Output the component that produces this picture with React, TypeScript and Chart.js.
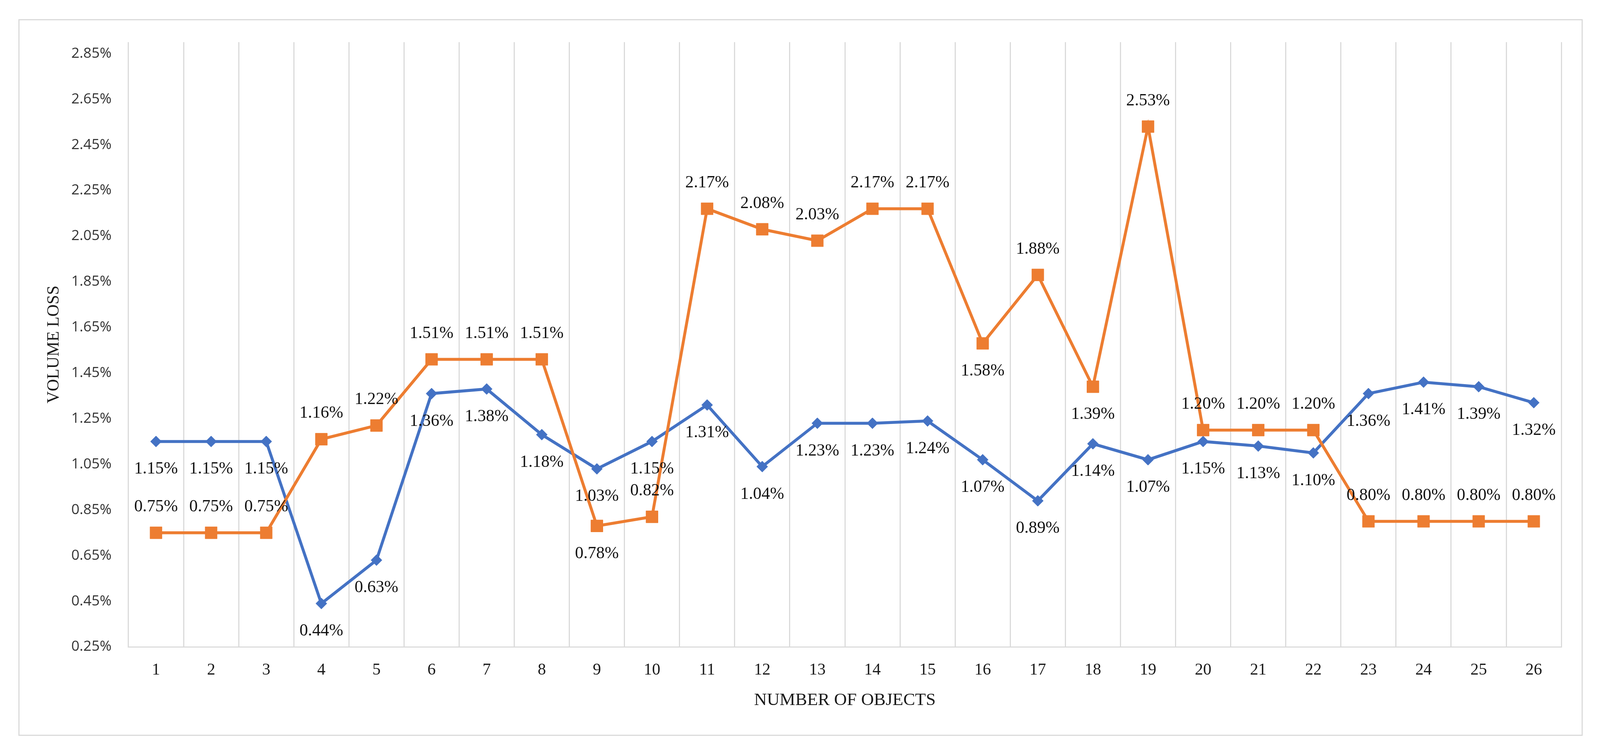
import React, { useEffect, useRef, useState } from "react";
import { Chart, registerables } from "chart.js";

Chart.register(...registerables);

const categories = ["1","2","3","4","5","6","7","8","9","10","11","12","13","14","15","16","17","18","19","20","21","22","23","24","25","26"];

const blueValues = [1.15,1.15,1.15,0.44,0.63,1.36,1.38,1.18,1.03,1.15,1.31,1.04,1.23,1.23,1.24,1.07,0.89,1.14,1.07,1.15,1.13,1.10,1.36,1.41,1.39,1.32];
const orangeValues = [0.75,0.75,0.75,1.16,1.22,1.51,1.51,1.51,0.78,0.82,2.17,2.08,2.03,2.17,2.17,1.58,1.88,1.39,2.53,1.20,1.20,1.20,0.80,0.80,0.80,0.80];

// label placement per point: "a" = above, "b" = below
const blueLabelPos = ["b","b","b","b","b","b","b","b","b","b","b","b","b","b","b","b","b","b","b","b","b","b","b","b","b","b"];
const orangeLabelPos = ["a","a","a","a","a","a","a","a","b","a","a","a","a","a","a","b","a","b","a","a","a","a","a","a","a","a"];

const yTicks = [0.25,0.45,0.65,0.85,1.05,1.25,1.45,1.65,1.85,2.05,2.25,2.45,2.65,2.85];
const yMin = 0.25;
const yMax = 2.9;

const xTitle = "NUMBER OF OBJECTS";
const yTitle = "VOLUME LOSS";

// design size (reference pixels)
const W = 4347;
const H = 1934;

export default function App() {
  const ref = useRef<HTMLCanvasElement | null>(null);
  const [size] = useState(() => ({
    w: typeof window !== "undefined" ? window.innerWidth : W,
    h: typeof window !== "undefined" ? window.innerHeight : H,
  }));

  useEffect(() => {
    if (!ref.current) return;
    document.body.style.overflow = "hidden";
    const sx = size.w / W;
    const sy = size.h / H;
    const s = Math.min(sx, sy);
    const X = (v: number) => v * sx;
    const Y = (v: number) => v * sy;
    const P = (v: number) => v * s;

    const frameBorder = {
      id: "frameBorder",
      beforeDraw(chart: any) {
        const ctx = chart.ctx;
        ctx.save();
        ctx.fillStyle = "#ffffff";
        ctx.fillRect(0, 0, chart.width, chart.height);
        ctx.strokeStyle = "#d9d9d9";
        ctx.lineWidth = P(3);
        ctx.strokeRect(X(51.5), Y(50.5), X(4298 - 51), Y(1883 - 50));
        ctx.restore();
      },
    };

    const pointLabels = {
      id: "pointLabels",
      afterDatasetsDraw(chart: any) {
        const ctx = chart.ctx;
        ctx.save();
        ctx.font = `${P(46)}px 'Liberation Serif'`;
        ctx.fillStyle = "#111111";
        ctx.textAlign = "center";
        ctx.textBaseline = "middle";
        chart.data.datasets.forEach((ds: any, di: number) => {
          const meta = chart.getDatasetMeta(di);
          const pos = ds.labelPos as string[];
          meta.data.forEach((pt: any, i: number) => {
            const v = ds.data[i] as number;
            const dy = pos[i] === "a" ? -Y(66) : Y(71);
            ctx.fillText(v.toFixed(2) + "%", pt.x, pt.y + dy);
          });
        });
        ctx.restore();
      },
    };

    const chart = new Chart(ref.current, {
      type: "line",
      data: {
        labels: categories,
        datasets: [
          {
            label: "Series 1",
            data: blueValues,
            borderColor: "#4472C4",
            backgroundColor: "#4472C4",
            borderWidth: P(8),
            pointStyle: "rectRot",
            pointRadius: P(15),
            pointBackgroundColor: "#4472C4",
            pointBorderColor: "#4472C4",
            pointBorderWidth: 1,
            tension: 0,
            order: 1,
            labelPos: blueLabelPos,
          } as any,
          {
            label: "Series 2",
            data: orangeValues,
            borderColor: "#ED7D31",
            backgroundColor: "#ED7D31",
            borderWidth: P(8),
            pointStyle: "rect",
            pointRadius: P(23),
            pointBackgroundColor: "#ED7D31",
            pointBorderColor: "#ED7D31",
            pointBorderWidth: 1,
            tension: 0,
            order: 0,
            labelPos: orangeLabelPos,
          } as any,
        ],
      },
      options: {
        animation: false,
        responsive: false,
        maintainAspectRatio: false,
        layout: { padding: { left: 0, top: Y(108), right: X(105), bottom: 0 } },
        plugins: {
          legend: { display: false },
          tooltip: { enabled: false },
        },
        scales: {
          x: {
            type: "category",
            offset: true,
            grid: {
              display: true,
              offset: true,
              color: "#d9d9d9",
              lineWidth: P(3),
              drawTicks: false,
            },
            border: { display: true, color: "#d9d9d9", width: P(3) },
            ticks: {
              color: "#1a1a1a",
              font: { family: "'Liberation Serif'", size: P(45) },
              padding: Y(34),
              maxRotation: 0,
              autoSkip: false,
            },
            title: {
              display: true,
              text: xTitle,
              color: "#1a1a1a",
              font: { family: "'Liberation Serif'", size: P(48) },
              padding: { top: 0, bottom: Y(113) },
            },
            afterFit(scale: any) {
              scale.height = Y(H - 1657);
            },
          },
          y: {
            type: "linear",
            min: yMin,
            max: yMax,
            grid: { display: false, drawTicks: false },
            border: { display: false },
            afterBuildTicks(scale: any) {
              scale.ticks = yTicks.map((v) => ({ value: v }));
            },
            ticks: {
              color: "#333333",
              font: { family: "'Open Sans'", size: P(39) },
              padding: X(46),
              callback: (v: any) => Number(v).toFixed(2) + "%",
            },
            title: {
              display: true,
              text: yTitle,
              color: "#1a1a1a",
              font: { family: "'Liberation Serif'", size: P(46) },
              padding: { top: X(119), bottom: 0 },
            },
            afterFit(scale: any) {
              scale.width = X(349);
            },
          },
        },
      },
      plugins: [frameBorder, pointLabels],
    });
    return () => chart.destroy();
  }, [size]);

  return (
    <div
      style={{
        position: "absolute",
        left: 0,
        top: 0,
        width: size.w,
        height: size.h,
        overflow: "hidden",
        background: "#fff",
      }}
    >
      <canvas ref={ref} style={{ width: size.w, height: size.h, display: "block" }} width={size.w} height={size.h} />
    </div>
  );
}
